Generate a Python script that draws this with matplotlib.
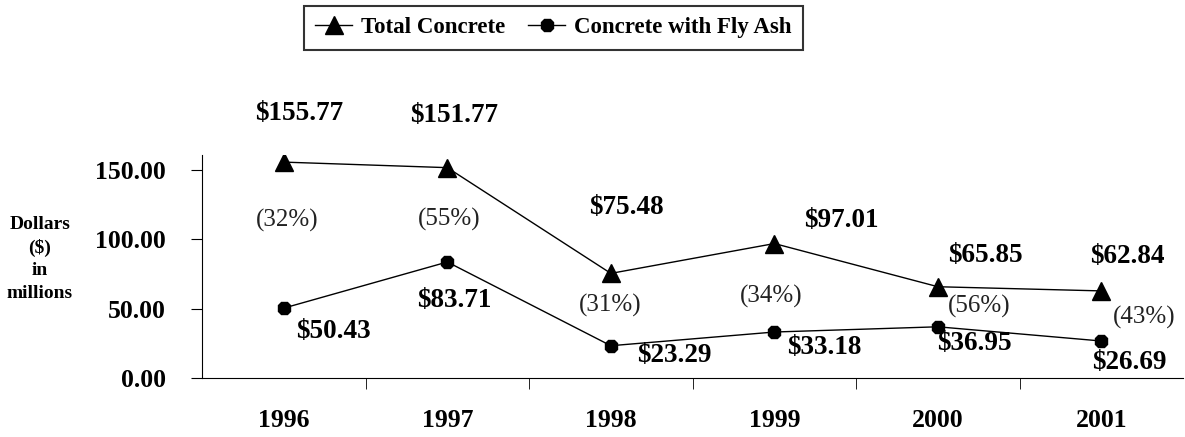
import numpy as np
import matplotlib
matplotlib.use('Agg')
import matplotlib.pyplot as plt

years = ['1996', '1997', '1998', '1999', '2000', '2001']
total = [155.77, 151.77, 75.48, 97.01, 65.85, 62.84]
fly_ash = [50.43, 83.71, 23.29, 33.18, 36.95, 26.69]
shares = ['(32%)', '(55%)', '(31%)', '(34%)', '(56%)', '(43%)']
yticks = [0, 50, 100, 150]

# label offsets in pixels, relative to the marker
total_off = [(15, 49), (7, 52), (16, 66), (67, 23), (47, 31), (26, 34)]
fly_off = [(50, -23), (7, -39), (63, -10), (50, -15), (36, -17), (28, -21)]
share_off = [(3, -58), (2, -52), (-1, -32), (-3, -53), (41, -20), (43, -27)]

plt.rcParams['font.family'] = ['Liberation Serif', 'DejaVu Serif']

fig = plt.figure(figsize=(11.85, 4.37), dpi=100)
ax = fig.add_axes([0.1705, 0.135, 0.828, 0.51])

x = np.arange(len(years))
ax.plot(x, total, color='black', lw=1, marker='^', ms=13, label='Total Concrete')
ax.plot(x, fly_ash, color='black', lw=1, marker='8', ms=10, label='Concrete with Fly Ash')

for i in range(len(years)):
    ax.annotate('${:.2f}'.format(total[i]), (x[i], total[i]), xytext=total_off[i],
                textcoords='offset pixels', ha='center', va='center',
                fontsize=19.5, fontweight='bold')
    ax.annotate('${:.2f}'.format(fly_ash[i]), (x[i], fly_ash[i]), xytext=fly_off[i],
                textcoords='offset pixels', ha='center', va='center',
                fontsize=19.5, fontweight='bold')
    ax.annotate(shares[i], (x[i], total[i]), xytext=share_off[i],
                textcoords='offset pixels', ha='center', va='center',
                fontsize=18, color='#222222')

ax.set_xlim(-0.5, len(years) - 0.5)
ax.set_ylim(0, 160.8)
ax.spines['top'].set_visible(False)
ax.spines['right'].set_visible(False)

ax.set_yticks(yticks)
ax.set_yticklabels(['{:.2f}'.format(v) for v in yticks], fontsize=18.5, fontweight='bold')
ax.tick_params(axis='y', direction='out', length=8, pad=18)

ax.set_xticks(x)
ax.set_xticklabels(years, fontsize=18.5, fontweight='bold')
ax.set_xticks(np.arange(0.5, len(years) - 1, 1), minor=True)
ax.tick_params(axis='x', which='major', length=0, pad=22)
ax.tick_params(axis='x', which='minor', direction='out', length=8)

fig.text(40 / 1185, 1 - 259 / 437, 'Dollars\n($)\nin\nmillions', ha='center', va='center',
         multialignment='center', fontsize=14, fontweight='bold', linespacing=1.4)

leg = fig.legend(loc='center', bbox_to_anchor=(0.467, 0.937), ncol=2, frameon=True,
                 fancybox=False, edgecolor='black', handlelength=1.6, handletextpad=0.4,
                 columnspacing=1.0, borderpad=0.5, prop={'size': 16.5, 'weight': 'bold'})
leg.get_frame().set_linewidth(1.5)

fig.savefig('out.png', dpi=100)
